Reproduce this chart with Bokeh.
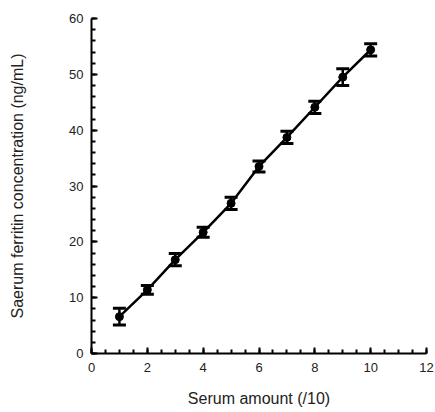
from bokeh.plotting import figure
from bokeh.models import Range1d, SingleIntervalTicker, Whisker, TeeHead, ColumnDataSource
from bokeh.embed import file_html
from bokeh.resources import INLINE

# Data
serum_amount = [1, 2, 3, 4, 5, 6, 7, 8, 9, 10]
ferritin = [6.6, 11.4, 16.8, 21.7, 26.9, 33.5, 38.7, 44.1, 49.5, 54.4]
error = [1.5, 0.8, 1.1, 0.9, 1.1, 1.0, 1.1, 1.1, 1.5, 1.1]

upper = [v + e for v, e in zip(ferritin, error)]
lower = [v - e for v, e in zip(ferritin, error)]
src = ColumnDataSource(dict(x=serum_amount, y=ferritin, upper=upper, lower=lower))

p = figure(width=435, height=412, output_backend="svg", toolbar_location=None,
           x_range=Range1d(0, 12), y_range=Range1d(0, 60),
           min_border_left=91, min_border_right=9, min_border_top=18, min_border_bottom=59)
p.outline_line_color = None
p.xgrid.visible = False
p.ygrid.visible = False

p.line("x", "y", source=src, line_color="black", line_width=2.5)
p.add_layout(Whisker(base="x", upper="upper", lower="lower", source=src,
                     line_color="black", line_width=2.5,
                     upper_head=TeeHead(size=13, line_color="black", line_width=3),
                     lower_head=TeeHead(size=13, line_color="black", line_width=3)))
p.scatter("x", "y", source=src, marker="circle", size=8, fill_color="black", line_color="black")

font = "Liberation Sans"
p.xaxis.ticker = SingleIntervalTicker(interval=2, num_minor_ticks=4)
p.yaxis.ticker = SingleIntervalTicker(interval=10, num_minor_ticks=5)
for ax in (p.xaxis, p.yaxis):
    ax.axis_line_width = 2
    ax.major_tick_line_width = 2
    ax.minor_tick_line_width = 2
    ax.major_tick_in = 6
    ax.major_tick_out = 0
    ax.minor_tick_in = 4
    ax.minor_tick_out = 0
    ax.major_label_text_font = font
    ax.major_label_text_font_size = "13px"
    ax.major_label_text_color = "#222222"
    ax.axis_label_text_font = font
    ax.axis_label_text_font_size = "16px"
    ax.axis_label_text_font_style = "normal"
    ax.axis_label_text_color = "#222222"

p.xaxis.major_label_standoff = 9
p.yaxis.major_label_standoff = 8
p.xaxis.axis_label = "Serum amount (/10)"
p.yaxis.axis_label = "Saerum ferritin concentration (ng/mL)"
p.xaxis.axis_label_standoff = 15
p.yaxis.axis_label_standoff = 40

open("out.html", "w").write(file_html(p, INLINE))
